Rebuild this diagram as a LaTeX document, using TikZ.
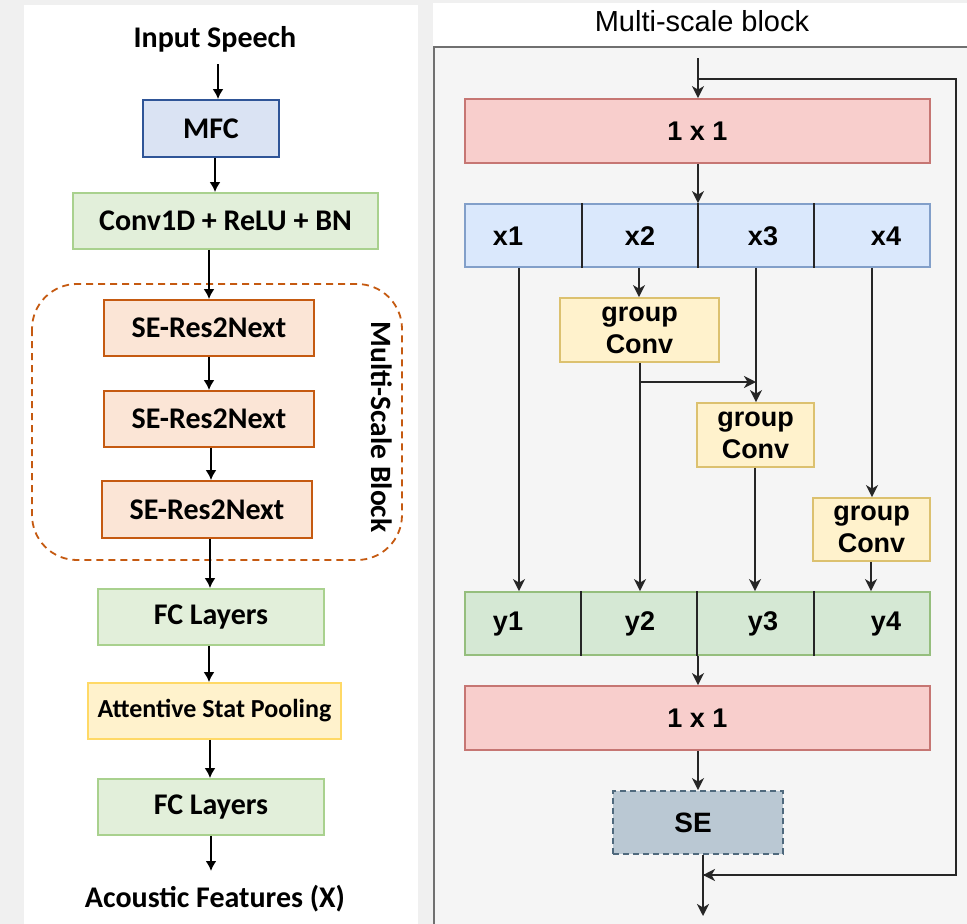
\documentclass[tikz,border=0pt]{standalone}
\usepackage{fontspec}
\setmainfont{Carlito}
\newfontfamily\arialf{Liberation Sans}
\usetikzlibrary{arrows.meta}
\definecolor{pagebg}{HTML}{F0F0F0}
\definecolor{mfcfill}{HTML}{DAE3F3}
\definecolor{mfcdraw}{HTML}{2F5597}
\definecolor{lgfill}{HTML}{E2EFDA}
\definecolor{lgdraw}{HTML}{A9D18E}
\definecolor{orfill}{HTML}{FBE5D6}
\definecolor{ordraw}{HTML}{C55A11}
\definecolor{ylfill}{HTML}{FFF2CC}
\definecolor{yldraw}{HTML}{FFD966}
\definecolor{rdfill}{HTML}{F8CECC}
\definecolor{rddraw}{HTML}{B85450}
\definecolor{blfill}{HTML}{DAE8FC}
\definecolor{bldraw}{HTML}{6C8EBF}
\definecolor{gnfill}{HTML}{D5E8D4}
\definecolor{gndraw}{HTML}{82B366}
\definecolor{gcdraw}{HTML}{D6B656}
\definecolor{sefill}{HTML}{BAC8D3}
\definecolor{sedraw}{HTML}{23445D}
\definecolor{panelfill}{HTML}{F5F5F5}
\definecolor{paneldraw}{HTML}{707070}
\begin{document}
\begin{tikzpicture}[x=1pt,y=-1pt,
  lfont/.style={font=\fontsize{30}{32}\selectfont\bfseries},
  lbox/.style={draw, line width=1.8pt, inner sep=0pt, minimum height=56pt, lfont},
  larr/.style={line width=2.2pt, -{Latex[length=10pt,width=11pt]}},
  rfont/.style={font=\arialf\fontsize{27}{34}\selectfont\bfseries},
  rbox/.style={draw, line width=1.8pt, inner sep=0pt, rfont},
  rarr/.style={line width=2pt, draw=black!85, -{Stealth[length=12pt,width=12pt,inset=3.5pt]}},
  rline/.style={line width=2pt, draw=black!85},
  divider/.style={line width=2pt, draw=black!85}
]
\useasboundingbox (0,0) rectangle (967,924);
\fill[pagebg] (0,0) rectangle (967,924);
% left panel
\fill[white] (24,5) rectangle (418,924);
\node[lfont, anchor=base] (inp) at (215,47.5) {Input Speech};
\node[lbox, fill=mfcfill, draw=mfcdraw, minimum width=136pt, minimum height=57pt] (mfc) at (211,128.5) {MFC};
\node[lbox, fill=lgfill, draw=lgdraw, minimum width=305pt] (conv) at (225.5,221) {Conv1D + ReLU + BN};
\draw[ordraw, line width=1.8pt, dash pattern=on 7pt off 5pt, rounded corners=45pt] (32,284) rectangle (402,560);
\node[lbox, fill=orfill, draw=ordraw, minimum width=210pt] (se1) at (209,328) {SE-Res2Next};
\node[lbox, fill=orfill, draw=ordraw, minimum width=210pt] (se2) at (209,419) {SE-Res2Next};
\node[lbox, fill=orfill, draw=ordraw, minimum width=210pt, minimum height=57pt] (se3) at (207,509.5) {SE-Res2Next};
\node[rotate=-90, font=\fontsize{29.5}{31}\selectfont\bfseries] (msb) at (382,427) {Multi-Scale Block};
\node[lbox, fill=lgfill, draw=lgdraw, minimum width=226pt] (fc1) at (211,617) {FC Layers};
\node[lbox, fill=ylfill, draw=yldraw, minimum width=253pt, font=\fontsize{26}{28}\selectfont\bfseries] (asp) at (214.5,711) {Attentive Stat Pooling};
\node[lbox, fill=lgfill, draw=lgdraw, minimum width=226pt] (fc2) at (211,807) {FC Layers};
\node[lfont, anchor=base] (outl) at (215,907) {Acoustic Features (X)};
\draw[larr] (218,64) -- (218,0 |- mfc.north);
\draw[larr] (215,0 |- mfc.south) -- (215,0 |- conv.north);
\draw[larr] (209,0 |- conv.south) -- (209,0 |- se1.north);
\draw[larr] (209,0 |- se1.south) -- (209,0 |- se2.north);
\draw[larr] (211,0 |- se2.south) -- (211,0 |- se3.north);
\draw[larr] (210,0 |- se3.south) -- (210,0 |- fc1.north);
\draw[larr] (209,0 |- fc1.south) -- (209,0 |- asp.north);
\draw[larr] (210,0 |- asp.south) -- (210,0 |- fc2.north);
\draw[larr] (211,0 |- fc2.south) -- (211,871);
% right panel
\fill[white] (433,3) rectangle (967,47);
\node[font=\arialf\fontsize{29}{31}\selectfont, anchor=base] (title) at (702,31) {Multi-scale block};
\draw[paneldraw, fill=panelfill, line width=2.2pt] (434,47) rectangle (985,945);
\node[rbox, fill=rdfill, draw=rddraw!80, minimum width=465pt, minimum height=64pt] (t1) at (697.5,131) {1 x 1};
\node[rbox, fill=blfill, draw=bldraw!85, minimum width=465pt, minimum height=63pt] (xrow) at (697.5,235.5) {};
\draw[divider] (582,0 |- xrow.north) -- (582,0 |- xrow.south);
\draw[divider] (698,0 |- xrow.north) -- (698,0 |- xrow.south);
\draw[divider] (814,0 |- xrow.north) -- (814,0 |- xrow.south);
\node[rfont] (x1) at (508,236) {x1};
\node[rfont] (x2) at (640,236) {x2};
\node[rfont] (x3) at (763,236) {x3};
\node[rfont] (x4) at (886,236) {x4};
\node[rbox, fill=ylfill, draw=gcdraw!85, minimum width=159pt, minimum height=64pt, align=center] (g1) at (639.5,330) {group\\[-2pt]Conv};
\node[rbox, fill=ylfill, draw=gcdraw!85, minimum width=117pt, minimum height=64pt, align=center] (g2) at (755.5,435) {group\\[-2pt]Conv};
\node[rbox, fill=ylfill, draw=gcdraw!85, minimum width=117pt, minimum height=63pt, align=center] (g3) at (871.5,529.5) {group\\[-2pt]Conv};
\node[rbox, fill=gnfill, draw=gndraw!85, minimum width=465pt, minimum height=63pt] (yrow) at (697.5,623.5) {};
\draw[divider] (581,0 |- yrow.north) -- (581,0 |- yrow.south);
\draw[divider] (697,0 |- yrow.north) -- (697,0 |- yrow.south);
\draw[divider] (814,0 |- yrow.north) -- (814,0 |- yrow.south);
\node[rfont] (y1) at (508,624) {y1};
\node[rfont] (y2) at (640,624) {y2};
\node[rfont] (y3) at (763,624) {y3};
\node[rfont] (y4) at (886,624) {y4};
\node[rbox, fill=rdfill, draw=rddraw!80, minimum width=465pt, minimum height=64pt] (t2) at (697.5,718) {1 x 1};
\node[rbox, fill=sefill, draw=sedraw!80, dash pattern=on 6pt off 4pt, minimum width=170pt, minimum height=63pt] (se) at (698,822.5) {};
\node[font=\arialf\fontsize{28}{30}\selectfont\bfseries] (selab) at (693,822.5) {SE};
% connectors
\coordinate (inR) at (698,58);
\coordinate (fbtop) at (698,79);
\coordinate (fbright) at (956,79);
\coordinate (fbbot) at (956,875);
\coordinate (fbjoin) at (703,875);
\coordinate (outR) at (703,916);
\draw[rarr] (inR) -- (698,0 |- t1.north);
\draw[rline] (fbtop) -- (fbright) -- (fbbot) -- (fbjoin);
\draw[rarr] (fbbot) -- (fbjoin);
\draw[rarr] (698,0 |- t1.south) -- (698,0 |- xrow.north);
\draw[rarr] (519,0 |- xrow.south) -- (519,0 |- yrow.north);
\draw[rarr] (639,0 |- xrow.south) -- (639,0 |- g1.north);
\draw[rarr] (640,0 |- g1.south) -- (640,0 |- yrow.north);
\draw[rarr] (640,382) -- (756,382);
\draw[rarr] (756,0 |- xrow.south) -- (756,0 |- g2.north);
\draw[rarr] (755,0 |- g2.south) -- (755,0 |- yrow.north);
\draw[rarr] (872,0 |- xrow.south) -- (872,0 |- g3.north);
\draw[rarr] (871,0 |- g3.south) -- (871,0 |- yrow.north);
\draw[rarr] (698,0 |- yrow.south) -- (698,0 |- t2.north);
\draw[rarr] (698,0 |- t2.south) -- (698,0 |- se.north);
\draw[rarr] (703,0 |- se.south) -- (outR);
\end{tikzpicture}
\end{document}
